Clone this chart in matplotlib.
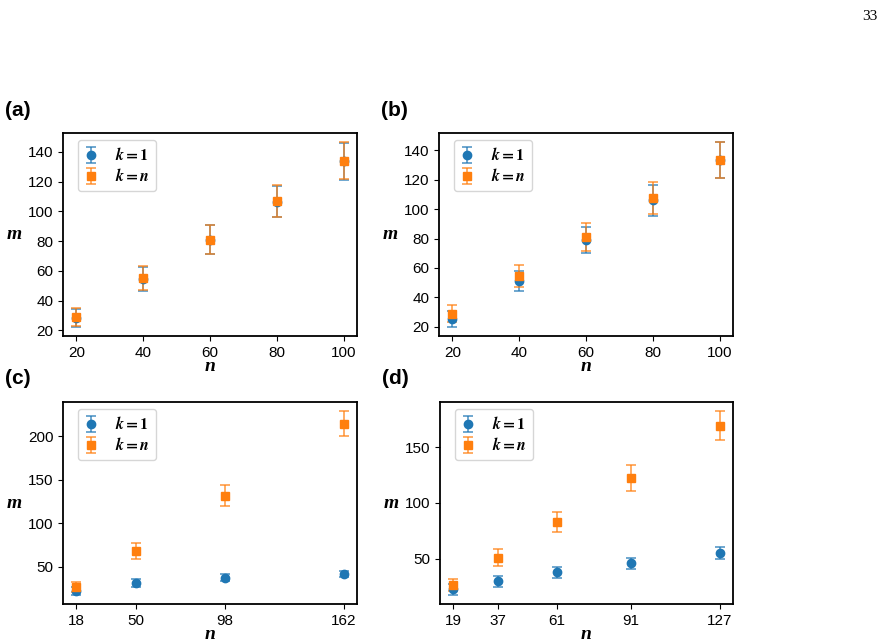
import numpy as np
import matplotlib.pyplot as plt
from matplotlib.ticker import MultipleLocator

plt.rcParams["font.family"] = ["Liberation Sans", "DejaVu Sans"]
plt.rcParams["mathtext.fontset"] = "stix"

# (a)
n_a = [20, 40, 60, 80, 100]
m1_a = [28.5, 54.5, 81, 106.5, 133.5]
e1_a = [6, 8, 9.5, 10.5, 12.3]
mn_a = [29, 55, 81, 107, 134]
en_a = [6, 8, 9.5, 10.5, 12.4]

# (b)
n_b = [20, 40, 60, 80, 100]
m1_b = [25.5, 51, 79, 106, 133.5]
e1_b = [5.5, 7, 9, 10.5, 12]
mn_b = [29, 54.5, 81, 107.5, 133.5]
en_b = [6, 7.7, 9.8, 11, 12]

# (c)
n_c = [18, 50, 98, 162]
m1_c = [22, 31, 37, 41.5]
e1_c = [4.5, 5, 4, 3.8]
mn_c = [26.5, 68, 131.5, 214.5]
en_c = [5.8, 8.7, 12, 14.5]

# (d)
n_d = [19, 37, 61, 91, 127]
m1_d = [23, 30, 38, 46, 55.5]
e1_d = [5, 5, 5, 5, 5.3]
mn_d = [27, 51, 83, 122, 169]
en_d = [5.5, 7.5, 9, 11.5, 13]

panels = [
    ("(a)", n_a, m1_a, e1_a, mn_a, en_a, None, 20),
    ("(b)", n_b, m1_b, e1_b, mn_b, en_b, None, 20),
    ("(c)", n_c, m1_c, e1_c, mn_c, en_c, n_c, 50),
    ("(d)", n_d, m1_d, e1_d, mn_d, en_d, n_d, 50),
]

W, H = 890, 644
boxes = [(63, 133, 294, 203), (439, 133, 294, 203),
         (63, 402, 294, 202), (440, 402, 293, 202)]

fig = plt.figure(figsize=(8.9, 6.44), dpi=100)
lab_font = dict(family=["Liberation Serif"], style="italic", weight="bold", size=14)

for (tag, n, m1, e1, mn, en, ticks, ystep), (x0, y0, w, h) in zip(panels, boxes):
    ax = fig.add_axes([x0 / W, 1 - (y0 + h) / H, w / W, h / H])
    for m, e, mk, c, lab in [(m1, e1, "o", "#1f77b4", r"$\mathbfit{k}\mathbf{=1}$"),
                             (mn, en, "s", "#ff7f0e", r"$\mathbfit{k}\mathbf{=}\mathbfit{n}$")]:
        eb = ax.errorbar(n, m, yerr=e, fmt=mk, color=c, ms=6, capsize=3.5,
                         elinewidth=1.2, capthick=1.2, label=lab)
        for cl in eb[1]:
            cl.set_alpha(0.75)
        for bl in eb[2]:
            bl.set_alpha(0.75)
    if ticks is not None:
        ax.set_xticks(ticks)
    ax.yaxis.set_major_locator(MultipleLocator(ystep))
    ax.tick_params(labelsize=11)
    for s in ax.spines.values():
        s.set_linewidth(1.3)
    ax.set_xlabel("n", fontdict=lab_font, labelpad=-1)
    ax.set_ylabel("m", fontdict=lab_font, rotation=0, va="center", ha="center")
    ax.yaxis.set_label_coords(-49 / w, 0.5)
    ax.legend(loc="upper left", bbox_to_anchor=(15 / w, 1 - 7 / h), borderaxespad=0,
              fontsize=11.5, handlelength=0.8, handletextpad=1.1, labelspacing=0.25)
    fig.text((x0 - 58) / W, 1 - (y0 - 23) / H, tag, fontsize=15, weight="bold",
             va="center", ha="left")

fig.text(870 / W, 1 - 16 / H, "33", family=["Liberation Serif"], fontsize=11,
         ha="center", va="center")

fig.savefig("out.png", dpi=100)
